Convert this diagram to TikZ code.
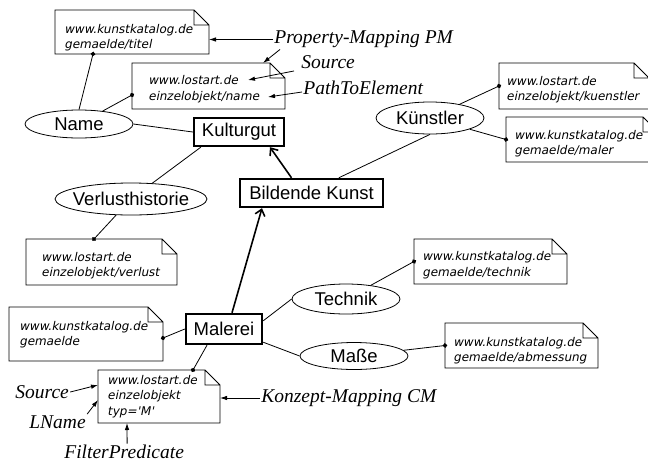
\documentclass[tikz,border=0pt]{standalone}
\usepackage{fontspec}
\setmainfont{Liberation Serif}
\newfontfamily\conceptfont{Liberation Sans}
\newfontfamily\urlfont{DejaVu Sans}[FakeSlant=0.2]
\usetikzlibrary{shapes.geometric, arrows.meta}

% note outline with folded corner
\newcommand{\foldnote}[1]{%
  \draw (#1.north west) -- ([xshift=-15pt]#1.north east) -- ([yshift=-15pt]#1.north east) -- (#1.south east) -- (#1.south west) -- cycle
    ([xshift=-15pt]#1.north east) |- ([yshift=-15pt]#1.north east);}

\begin{document}
\begin{tikzpicture}[x=1pt, y=-1pt, line width=0.8pt]
    % Styles
    \tikzstyle{concept} = [rectangle, draw=black, line width=2.4pt, minimum height=28pt, inner sep=0pt, font=\conceptfont\fontsize{18.5}{20}\selectfont]
    \tikzstyle{attr} = [ellipse, draw=black, inner sep=0pt, font=\conceptfont\fontsize{18.5}{20}\selectfont]
    \tikzstyle{note} = [rectangle, inner sep=0pt, outer sep=0pt]
    \tikzstyle{urltext} = [anchor=west, inner sep=0pt, align=left, font=\urlfont\fontsize{12}{15.5}\selectfont]
    \tikzstyle{remark} = [anchor=west, inner sep=1pt, font=\itshape\fontsize{19.5}{22}\selectfont]
    \tikzstyle{isa} = [-{Straight Barb[length=6pt, width=10pt]}, line width=1.6pt]
    \tikzstyle{link} = [-{Circle[length=4.5pt]}, shorten >=-2.25pt]
    \tikzstyle{pointer} = [-{Latex[length=7pt, width=4.5pt]}]

    \useasboundingbox (0,0) rectangle (648,464);

    % Concepts
    \node[concept, minimum width=90pt] (kultur) at (239,132) {Kulturgut};
    \node[concept, minimum width=143pt] (bildende) at (311.5,193) {Bildende Kunst};
    \node[concept, minimum width=76pt, minimum height=30pt] (malerei) at (224,329) {Malerei};

    % Attributes
    \node[attr, minimum width=108pt, minimum height=28pt] (name) at (79,124) {Name};
    \node[attr, minimum width=152pt, minimum height=32pt, inner xsep=-14pt] (verlust) at (131,199) {Verlusthistorie};
    \node[attr, minimum width=108pt, minimum height=32pt] (kuenstler) at (430,118) {Künstler};
    \node[attr, minimum width=108pt, minimum height=30pt] (technik) at (346,299) {Technik};
    \node[attr, minimum width=108pt, minimum height=27pt] (masse) at (354,356) {Maße};

    % Mapping notes
    \node[note, minimum width=154pt, minimum height=44pt] (n-titel) at (132,32) {};
    \node[urltext] (t-titel) at (64,37.5) {www.kunstkatalog.de\\gemaelde/titel};
    \node[note, minimum width=153pt, minimum height=46pt] (n-name) at (208.5,86) {};
    \node[urltext] (t-name) at (148,89) {www.lostart.de\\einzelobjekt/name};
    \node[note, minimum width=150pt, minimum height=46pt] (n-kuenstler) at (574,86) {};
    \node[urltext] (t-kuenstler) at (506,89.5) {www.lostart.de\\einzelobjekt/kuenstler};
    \node[note, minimum width=152pt, minimum height=45pt] (n-maler) at (582,139.5) {};
    \node[urltext] (t-maler) at (514,143.5) {www.kunstkatalog.de\\gemaelde/maler};
    \node[note, minimum width=151pt, minimum height=46pt] (n-verlust) at (101.5,262) {};
    \node[urltext] (t-verlust) at (41,265.5) {www.lostart.de\\einzelobjekt/verlust};
    \node[note, minimum width=153pt, minimum height=45pt] (n-technik) at (490.5,261.5) {};
    \node[urltext] (t-technik) at (422,265) {www.kunstkatalog.de\\gemaelde/technik};
    \node[note, minimum width=154pt, minimum height=54pt] (n-gemaelde) at (86,334) {};
    \node[urltext] (t-gemaelde) at (19,334.5) {www.kunstkatalog.de\\gemaelde};
    \node[note, minimum width=153pt, minimum height=45pt] (n-abmessung) at (521.5,345.5) {};
    \node[urltext] (t-abmessung) at (453,350.5) {www.kunstkatalog.de\\gemaelde/abmessung};
    \node[note, minimum width=122pt, minimum height=53pt] (n-konzept) at (159,396.5) {};
    \node[urltext] (t-konzept) at (107,396.5) {www.lostart.de\\einzelobjekt\\typ='M'};

    \foreach \nm in {titel, name, kuenstler, maler, verlust, technik, gemaelde, abmessung, konzept}
        {\foldnote{n-\nm}}

    % Links to the mapping notes
    \draw[link] (name.north) -- ([xshift=-39pt]n-titel.south);
    \draw[link] (name) -- ([yshift=-9pt]n-name.west);
    \draw[link] (verlust) -- ([xshift=-7.5pt]n-verlust.north);
    \draw[link] (kuenstler) -- (n-kuenstler.west);
    \draw[link] (kuenstler) -- (n-maler.west);
    \draw[link] (technik) -- (n-technik.west);
    \draw[link] (masse) -- (n-abmessung.west);
    \draw[link] (malerei.west) -- ([yshift=-4pt]n-gemaelde.east);
    \draw[link] ([xshift=-17pt]malerei.south) -- ([xshift=34pt]n-konzept.north);

    % Attribute relations
    \draw (name.east) -- (kultur.west);
    \draw ([xshift=8pt]kultur.south west) -- (verlust);
    \draw ([xshift=100pt]bildende.north west) -- (kuenstler.south);
    \draw ([yshift=-8pt]malerei.north east) -- (technik.west);
    \draw ([yshift=3pt]malerei.south east) -- (masse.west);

    % Generalisation
    \draw[isa] ([xshift=-20pt]bildende.north) -- ([xshift=31pt]kultur.south);
    \draw[isa] ([xshift=8pt]malerei.north) -- ([xshift=-49.5pt]bildende.south);

    % Annotations
    \node[remark] (pm) at (273,39.5) {Property-Mapping PM};
    \node[remark] (src-pm) at (300,62) {Source};
    \node[remark] (pte) at (302,88) {PathToElement};
    \node[remark] (cm) at (260,398) {Konzept-Mapping CM};
    \node[remark] (src-cm) at (14,392) {Source};
    \node[remark] (lname) at (28,422) {LName};
    \node[remark] (fp) at (63,452) {FilterPredicate};

    \coordinate (host-tip) at (248,80);
    \coordinate (path-tip) at (268,97);

    \draw[pointer] (pm.west) -- (pm.west -| n-titel.east);
    \draw[pointer] ([xshift=7pt]pm.south west) -- ([xshift=-22pt]n-name.north east);
    \draw[pointer] ([xshift=-6pt, yshift=-1pt]src-pm.south west) -- (host-tip);
    \draw[pointer] ([yshift=-4pt]pte.west) -- (path-tip);
    \draw[pointer] (cm.west) -- (cm.west -| n-konzept.east);
    \draw[pointer] (src-cm.east) -- ([yshift=11.5pt]n-konzept.west);
    \draw[pointer] (lname.north east) -- ([yshift=-3.5pt]n-konzept.west);
    \draw[pointer] ([xshift=3pt]fp.north) -- ([xshift=-32pt]n-konzept.south);
\end{tikzpicture}
\end{document}
